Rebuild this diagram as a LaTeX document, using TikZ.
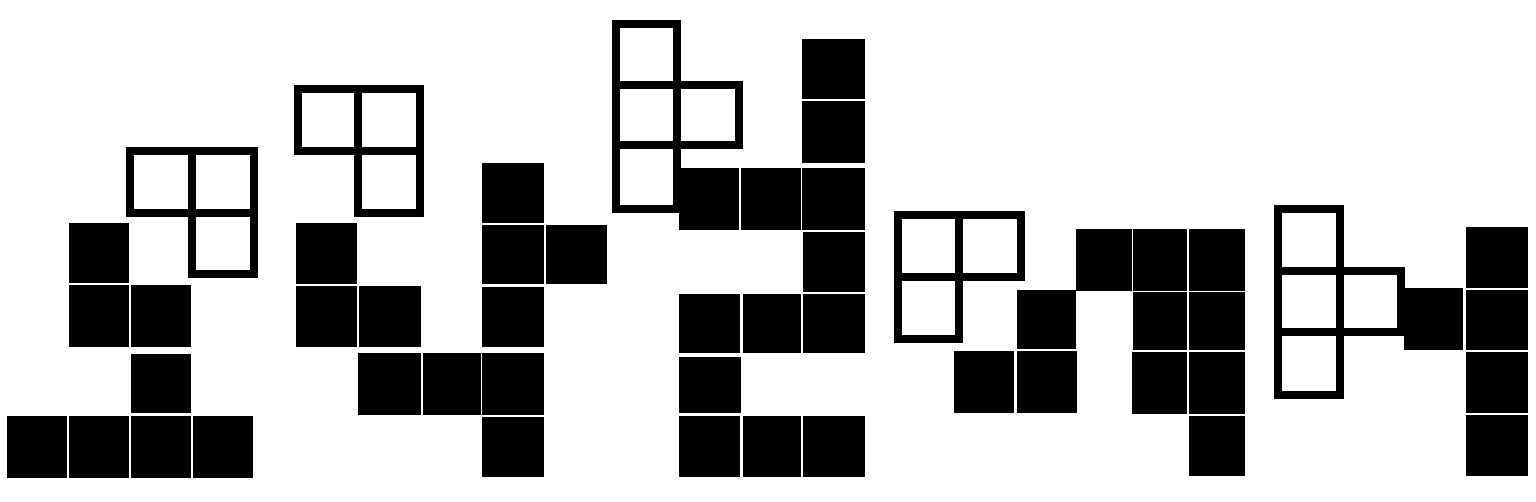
\documentclass[tikz,border=0pt]{standalone}
\begin{document}
\begin{tikzpicture}[x=1pt,y=-1pt,
  blk/.style={fill=black},
  outl/.style={draw=black,line width=8pt,line join=miter}]
\useasboundingbox (0,0) rectangle (1536,502);
% outlined pieces
% A
\draw[outl] (130,151) -- (253.5,151) -- (253.5,274) -- (191.5,274) -- (191.5,213) -- (130,213) -- cycle;
\draw[outl] (191.5,151) -- (191.5,213) -- (253.5,213);
% B
\draw[outl] (297.5,89) -- (420,89) -- (420,213) -- (358,213) -- (358,151.5) -- (297.5,151.5) -- cycle;
\draw[outl] (358,89) -- (358,151.5) -- (420,151.5);
% C
\draw[outl] (616.3,24) -- (677,24) -- (677,85.5) -- (739.3,85.5) -- (739.3,145) -- (677,145) -- (677,208.7) -- (616.3,208.7) -- cycle;
\draw[outl] (616.3,85.5) -- (677,85.5) -- (677,145);
\draw[outl] (616.3,145) -- (677,145);
% D
\draw[outl] (898,215) -- (1021,215) -- (1021,277) -- (959,277) -- (959,339) -- (898,339) -- cycle;
\draw[outl] (959,215) -- (959,277);
\draw[outl] (898,277) -- (959,277);
% E
\draw[outl] (1278,209) -- (1339.5,209) -- (1339.5,271) -- (1401,271) -- (1401,332.5) -- (1339.5,332.5) -- (1339.5,394.5) -- (1278,394.5) -- cycle;
\draw[outl] (1278,271) -- (1339.5,271) -- (1339.5,332.5);
\draw[outl] (1278,332.5) -- (1339.5,332.5);
% black squares A
\fill[blk] (69,223.3) rectangle (129.3,282.7);
\fill[blk] (69,285) rectangle (129.3,347.3);
\fill[blk] (131,285) rectangle (190.7,347.3);
\fill[blk] (131,354) rectangle (190.7,413.3);
\fill[blk] (7.3,415.7) rectangle (67.3,477.7);
\fill[blk] (69.3,415.7) rectangle (129,477.7);
\fill[blk] (131,415.7) rectangle (190.7,477.7);
\fill[blk] (192.7,415.7) rectangle (253.3,477.7);
% B
\fill[blk] (296.3,223.3) rectangle (357.3,284);
\fill[blk] (296.3,285.7) rectangle (357.3,347.3);
\fill[blk] (359.3,285.7) rectangle (420.7,347.3);
\fill[blk] (358.3,353.3) rectangle (420.7,415);
\fill[blk] (422.7,353.3) rectangle (480.7,415);
\fill[blk] (482.3,353.3) rectangle (544.3,415);
\fill[blk] (482.3,163.3) rectangle (544.3,222.7);
\fill[blk] (482.3,225) rectangle (544.3,284);
\fill[blk] (546,225) rectangle (606.7,284);
\fill[blk] (482.3,286.7) rectangle (544.3,347.3);
\fill[blk] (482.3,417.3) rectangle (544.3,477.3);
% C
\fill[blk] (802.3,39.3) rectangle (865.3,99.3);
\fill[blk] (802.3,101.5) rectangle (865.3,162.7);
\fill[blk] (679,168.3) rectangle (739,230);
\fill[blk] (741,168.3) rectangle (800.7,230);
\fill[blk] (802.3,168.3) rectangle (865.3,230);
\fill[blk] (803,232.3) rectangle (865,292.3);
\fill[blk] (679,294) rectangle (740,353.3);
\fill[blk] (742.7,294) rectangle (801,353.3);
\fill[blk] (803.3,294) rectangle (865.3,353.3);
\fill[blk] (679,356.7) rectangle (740.7,413.3);
\fill[blk] (679,415.7) rectangle (740,476.7);
\fill[blk] (742.7,415.7) rectangle (801,476.7);
\fill[blk] (803.3,415.7) rectangle (865.3,476.7);
% D
\fill[blk] (1076,229) rectangle (1131.7,291);
\fill[blk] (1133.3,229) rectangle (1187.3,291);
\fill[blk] (1189,229) rectangle (1245.3,291);
\fill[blk] (1016.7,290) rectangle (1076,349);
\fill[blk] (1133.3,292.3) rectangle (1187.3,350);
\fill[blk] (1189,292.3) rectangle (1245.3,350);
\fill[blk] (954.3,351.5) rectangle (1014.3,413.3);
\fill[blk] (1016.7,351.5) rectangle (1076.7,413.3);
\fill[blk] (1132.3,351.7) rectangle (1186.7,414);
\fill[blk] (1189,351.7) rectangle (1245.3,414);
\fill[blk] (1189,415.7) rectangle (1245.3,476);
% E
\fill[blk] (1404,288.3) rectangle (1463.3,350);
\fill[blk] (1465.7,226.7) rectangle (1528.3,287.7);
\fill[blk] (1465.7,290) rectangle (1528.3,350);
\fill[blk] (1465.7,352.3) rectangle (1528.3,412.7);
\fill[blk] (1465.7,415) rectangle (1528.3,476);
\end{tikzpicture}
\end{document}
